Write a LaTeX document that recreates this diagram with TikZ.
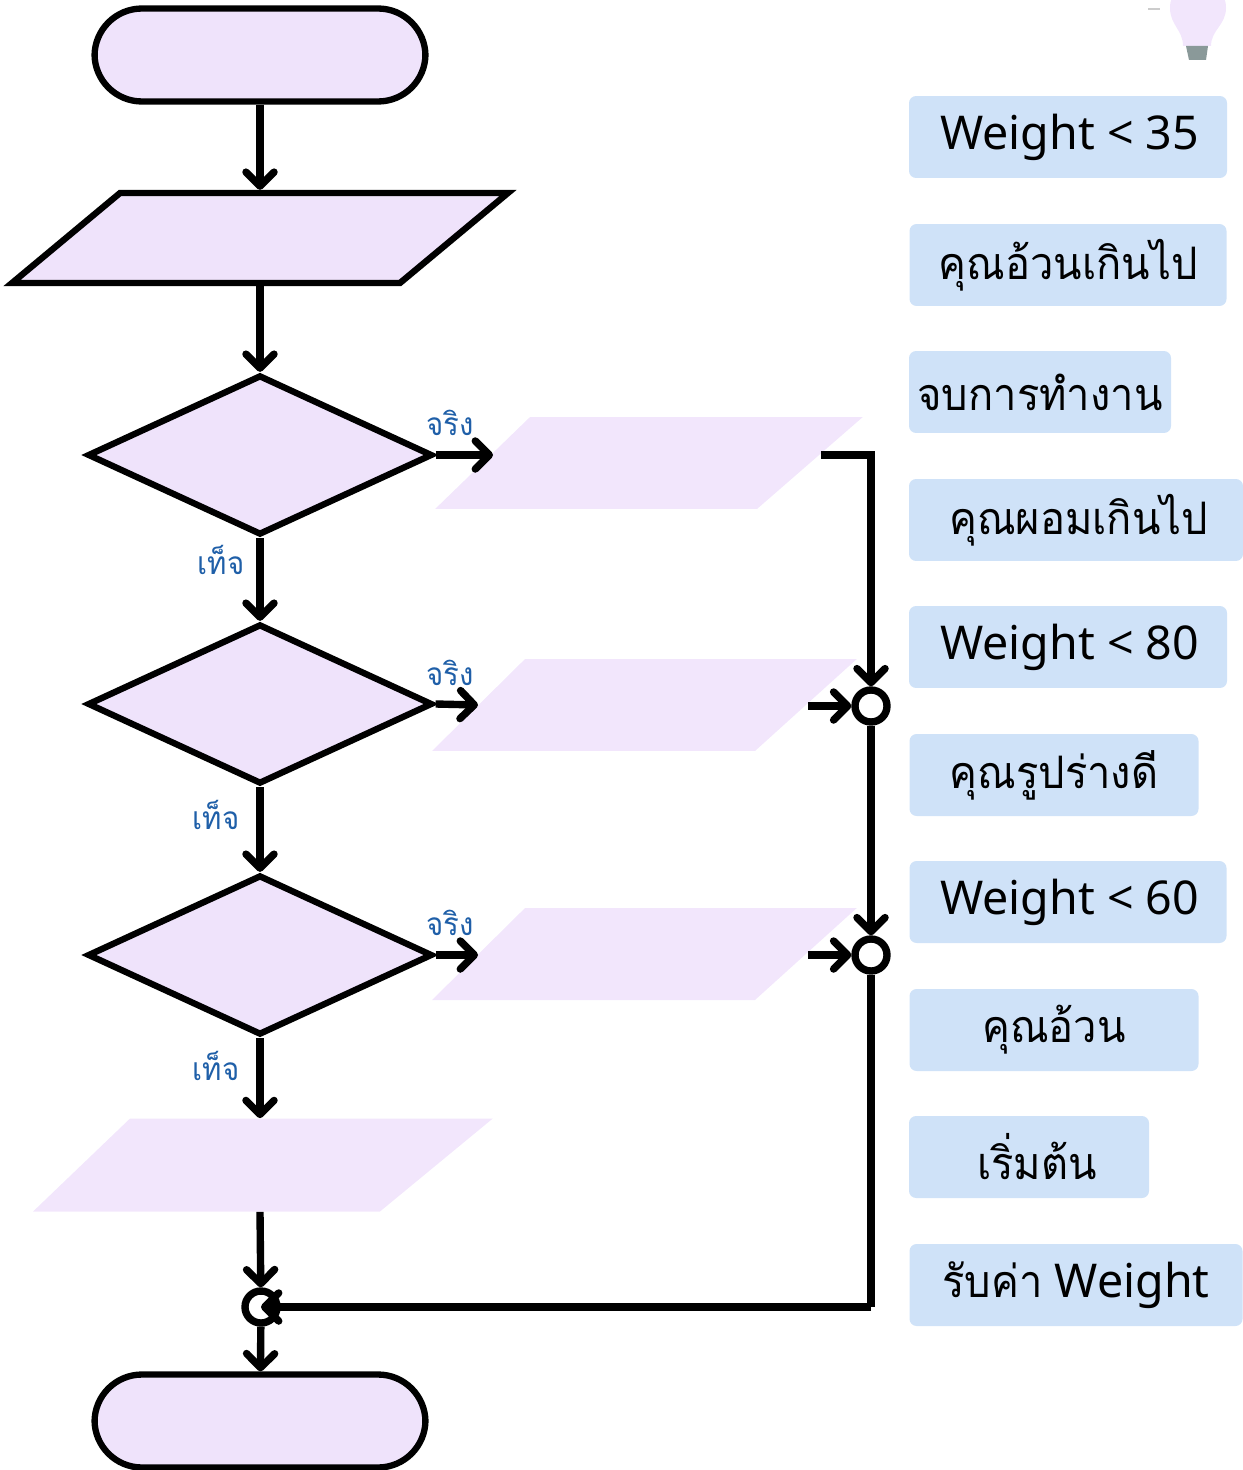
\documentclass[tikz,border=0pt]{standalone}
\usepackage{fontspec}
\setmainfont{Noto Sans}
\newfontfamily\thaifont[Script=Thai,FakeStretch=0.93]{Loma}
\usetikzlibrary{arrows.meta,shapes.geometric}
\definecolor{lilac}{HTML}{EFE3FB}
\definecolor{palelilac}{HTML}{F2E6FC}
\definecolor{palesky}{HTML}{CFE2F8}
\definecolor{labelblue}{HTML}{1F5FA8}
\definecolor{bulbbase}{HTML}{8A9999}
\newcommand\nudged[3]{\hspace{#1}\raisebox{#2}{#3}}
\newcommand\tilethai{\thaifont\fontsize{25.5}{30}\selectfont}
\tikzset{
  flowline/.style = {line width = 4.2pt, black},
  flowarrow/.style = {flowline, -{Straight Barb[round, length = 8pt, width = 16pt, line width = 4.2pt]}},
  terminal/.style = {draw = black, line width = 3.6pt, fill = lilac, rounded corners = 27pt, minimum width = 6.62cm, minimum height = 1.86cm, inner sep = 0pt},
  decision/.style = {diamond, draw = black, line width = 3.6pt, fill = lilac, minimum width = 6.9cm, minimum height = 3.2cm, inner sep = 0pt},
  slanted/.style args = {#1/#2/#3/#4}{trapezium, trapezium left angle = #1, trapezium right angle = #2, inner xsep = #3, inner ysep = #4, fill = palelilac},
  merge/.style = {circle, draw = black, line width = 4.2pt, fill = white, minimum size = 0.64cm, inner sep = 0pt},
  tile/.style = {fill = palesky, rounded corners = 4pt, minimum height = 1.64cm, inner sep = 0pt, font = \fontsize{26.5}{30}\selectfont},
  branch/.style = {text = labelblue, inner sep = 0pt, font = \thaifont\fontsize{18}{20}\selectfont}
}
\begin{document}
\begin{tikzpicture}[x = 0.02cm, y = -0.02cm]
\useasboundingbox (0,0) rectangle (1243,1470);
\begin{scope}
\clip (0,0) rectangle (1243,1470);
\fill[palelilac] (1183,46) .. controls (1183,30) and (1170,25) .. (1170,8) .. controls (1170,-8) and (1180,-14) .. (1198,-14) .. controls (1216,-14) and (1226,-8) .. (1226,8) .. controls (1226,25) and (1211,30) .. (1211,46) -- cycle;
\fill[bulbbase] (1186,46) -- (1208,46) -- (1206,60) -- (1189,60) -- cycle;
\draw[gray!40, line width = 0.8pt] (1148,9) -- (1160,9);
\end{scope}
\node[terminal] (start) at (260,55) {};
\node[terminal] (finish) at (260,1421) {};
\node[slanted = 39.8/140.2/2.8cm/0.9cm, draw = black, line width = 3.6pt, fill = lilac] (input) at (260,238) {};
\node[decision] (check1) at (260,455) {};
\node[decision] (check2) at (260,704) {};
\node[decision] (check3) at (260,955) {};
\node[slanted = 44.1/139/2.27cm/0.92cm] (out1) at (643.5,463) {};
\node[slanted = 44.7/137.9/2.3cm/0.92cm] (out2) at (640,705) {};
\node[slanted = 44.7/137.9/2.3cm/0.92cm] (out3) at (640,954) {};
\node[slanted = 43.8/140.5/2.5cm/0.93cm] (out4) at (255,1165) {};
\node[merge] (merge1) at (871,706) {};
\node[merge] (merge2) at (871,955) {};
\node[merge] (merge3) at (261,1307) {};
\coordinate (tip1) at (493,455);
\coordinate (tip2) at (478,705);
\coordinate (tip3) at (478,955);
\coordinate (tail1) at (821,455);
\coordinate (tail2) at (808,706);
\coordinate (tail3) at (808,955);
\coordinate (corner) at (871,1307);
\draw[flowarrow] (start) -- (input);
\draw[flowarrow] (input) -- (check1);
\draw[flowarrow] (check1) -- (check2);
\draw[flowarrow] (check2) -- (check3);
\draw[flowarrow] (check3) -- (check3 |- out4.north);
\draw[flowarrow] (check3 |- out4.south) -- (merge3);
\draw[flowarrow] (merge3) -- (finish);
\draw[flowarrow] (check1.east) -- (tip1);
\draw[flowarrow] (check2.east) -- (tip2);
\draw[flowarrow] (check3.east) -- (tip3);
\draw[flowarrow] (tail1) -| (merge1);
\draw[flowarrow] (tail2) -- (merge1);
\draw[flowarrow] (tail3) -- (merge2);
\draw[flowarrow] (merge1) -- (merge2);
\draw[flowline] (merge2) -- (corner);
\draw[flowarrow] (corner) -- (merge3.center);
\node[branch] (yes1) at (450,423) {จริง};
\node[branch] (yes2) at (450,673) {จริง};
\node[branch] (yes3) at (450,923) {จริง};
\node[branch] (no1) at (221,560) {เท็จ};
\node[branch] (no2) at (216,815) {เท็จ};
\node[branch] (no3) at (216,1066) {เท็จ};
\foreach \name/\cx/\cy/\wide/\words in {
  tileA/1068/137/318/{\nudged{2pt}{-1pt}{Weight < 35}},
  tileB/1068/265/317/{\tilethai คุณอ้วนเกินไป},
  tileC/1040/392/262/{\tilethai จบการทำงาน},
  tileD/1076/520/334/{\nudged{3pt}{0pt}{\tilethai คุณผอมเกินไป}},
  tileE/1068/647/318/{\nudged{2pt}{-1pt}{Weight < 80}},
  tileF/1054/775/289/{\tilethai คุณรูปร่างดี},
  tileG/1068/902/317/{\nudged{2pt}{-1pt}{Weight < 60}},
  tileH/1054/1030/289/{\tilethai คุณอ้วน},
  tileI/1029/1157/240/{\nudged{9pt}{0pt}{\tilethai เริ่มต้น}},
  tileJ/1076/1285/333/{{\tilethai รับค่า} Weight}}
  \node[tile, minimum width = 0.02cm*\wide] (\name) at (\cx,\cy) {\words};
\end{tikzpicture}
\end{document}
